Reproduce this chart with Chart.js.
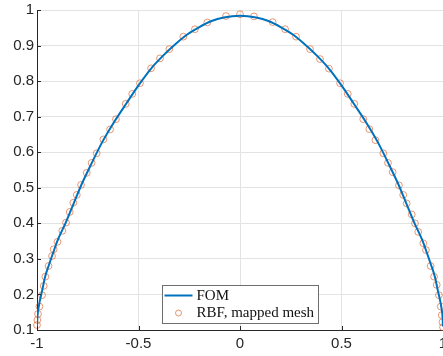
<!DOCTYPE html>
<html>
<head>
<meta charset="utf-8">
<script src="https://cdn.jsdelivr.net/npm/chart.js@4.4.0/dist/chart.umd.min.js"></script>
<style>
  html, body { margin: 0; padding: 0; background: #fff; }
  #wrap { width: 443px; height: 356px; }
</style>
</head>
<body>
<div id="wrap"><canvas id="myChart" width="443" height="356"></canvas></div>
<script>
// FOM curve (solid line)
const fomX = [-1.0, -0.998, -0.993, -0.985, -0.975, -0.96, -0.94, -0.92, -0.9, -0.86, -0.82, -0.78, -0.73, -0.68, -0.62, -0.56, -0.5, -0.44, -0.38, -0.32, -0.26, -0.2, -0.14, -0.08, 0.0,
  0.08, 0.14, 0.2, 0.26, 0.32, 0.38, 0.44, 0.5, 0.56, 0.62, 0.68, 0.73, 0.78, 0.82, 0.86, 0.9, 0.92, 0.94, 0.96, 0.975, 0.985, 0.993, 0.998, 1.0];
const fomY = [0.11, 0.135, 0.16, 0.185, 0.21, 0.25, 0.285, 0.318, 0.35, 0.40, 0.455, 0.51, 0.57, 0.627, 0.685, 0.737, 0.788, 0.834, 0.871, 0.903, 0.931, 0.952, 0.969, 0.979, 0.984,
  0.979, 0.969, 0.952, 0.931, 0.903, 0.871, 0.834, 0.788, 0.737, 0.685, 0.627, 0.57, 0.51, 0.455, 0.40, 0.35, 0.318, 0.285, 0.25, 0.21, 0.185, 0.16, 0.135, 0.11];

// RBF, mapped mesh (circle markers)
const rbfX = [-1.0, -0.998, -0.995, -0.988, -0.975, -0.967, -0.959, -0.943, -0.926, -0.918, -0.899, -0.875, -0.857, -0.839, -0.821, -0.804, -0.783, -0.755, -0.731, -0.706, -0.673, -0.640, -0.611, -0.563, -0.531, -0.493, -0.438, -0.394, -0.348, -0.279, -0.222, -0.161, -0.069,
  0.0,
  0.069, 0.161, 0.222, 0.276, 0.345, 0.394, 0.438, 0.493, 0.531, 0.563, 0.607, 0.637, 0.667, 0.706, 0.729, 0.752, 0.783, 0.804, 0.821, 0.846, 0.862, 0.878, 0.903, 0.916, 0.939, 0.956, 0.969, 0.980, 0.989, 0.994, 0.997, 1.0];
const rbfY = [0.114, 0.128, 0.145, 0.166, 0.198, 0.224, 0.250, 0.280, 0.308, 0.327, 0.348, 0.379, 0.402, 0.432, 0.458, 0.480, 0.508, 0.542, 0.570, 0.597, 0.636, 0.664, 0.693, 0.736, 0.764, 0.794, 0.836, 0.864, 0.890, 0.925, 0.946, 0.965, 0.983,
  0.988,
  0.982, 0.966, 0.946, 0.925, 0.890, 0.862, 0.835, 0.794, 0.764, 0.736, 0.693, 0.665, 0.634, 0.597, 0.570, 0.544, 0.507, 0.480, 0.456, 0.425, 0.400, 0.376, 0.344, 0.325, 0.280, 0.250, 0.227, 0.198, 0.166, 0.142, 0.122, 0.108];

const xTicks = [-1, -0.5, 0, 0.5, 1];
const yTicks = [0.1, 0.2, 0.3, 0.4, 0.5, 0.6, 0.7, 0.8, 0.9, 1];

const axisColor = '#262626';

// small inward tick marks like the original
const innerTicks = {
  id: 'innerTicks',
  afterDraw(chart) {
    const ctx = chart.ctx, a = chart.chartArea;
    const xs = chart.scales.x, ys = chart.scales.y;
    ctx.save();
    ctx.strokeStyle = axisColor;
    ctx.lineWidth = 1;
    ctx.beginPath();
    xTicks.forEach(v => {
      const px = Math.round(xs.getPixelForValue(v)) + 0.5;
      ctx.moveTo(px, a.bottom);
      ctx.lineTo(px, a.bottom - 4);
    });
    yTicks.forEach(v => {
      const py = Math.round(ys.getPixelForValue(v)) + 0.5;
      ctx.moveTo(a.left, py);
      ctx.lineTo(a.left + 4, py);
    });
    ctx.stroke();
    ctx.restore();
  }
};

// boxed legend at the bottom centre of the plot area
const boxLegend = {
  id: 'boxLegend',
  afterDraw(chart) {
    const ctx = chart.ctx, a = chart.chartArea;
    const sets = chart.data.datasets;
    ctx.save();
    ctx.font = '15px "Liberation Serif", serif';
    const textW = Math.max(...sets.map(d => ctx.measureText(d.label).width));
    const w = Math.round(34 + textW + 4);
    const h = 38;
    const left = Math.round((a.left + a.right) / 2 - w / 2) + 0.5;
    const top = Math.round(a.bottom - 7 - h) + 0.5;
    ctx.fillStyle = '#fff';
    ctx.fillRect(left, top, w, h);
    ctx.strokeStyle = '#6e6e6e';
    ctx.lineWidth = 1;
    ctx.strokeRect(left, top, w, h);

    const row1 = top + 10, row2 = top + 27.5;
    // FOM
    ctx.strokeStyle = sets[0].borderColor;
    ctx.lineWidth = 2;
    ctx.beginPath();
    ctx.moveTo(left + 2, row1);
    ctx.lineTo(left + 30, row1);
    ctx.stroke();
    // RBF
    ctx.strokeStyle = sets[1].borderColor;
    ctx.lineWidth = 1;
    ctx.beginPath();
    ctx.arc(left + 16, row2, 3, 0, Math.PI * 2);
    ctx.stroke();

    ctx.fillStyle = '#111';
    ctx.textBaseline = 'middle';
    ctx.fillText(sets[0].label, left + 34, row1 + 0.5);
    ctx.fillText(sets[1].label, left + 34, row2 + 0.5);
    ctx.restore();
  }
};

const context = document.getElementById('myChart');

const myChart = new Chart(context, {
  type: 'scatter',
  data: {
    datasets: [
      {
        label: 'FOM',
        data: fomX.map((x, i) => ({x: x, y: fomY[i]})),
        showLine: true,
        borderColor: '#0072BD',
        borderWidth: 2,
        pointRadius: 0,
        cubicInterpolationMode: 'monotone',
        order: 1
      },
      {
        label: 'RBF, mapped mesh',
        data: rbfX.map((x, i) => ({x: x, y: rbfY[i]})),
        showLine: false,
        borderColor: 'rgba(217,83,25,0.6)',
        backgroundColor: 'rgba(0,0,0,0)',
        pointRadius: 3.4,
        pointBorderWidth: 1,
        clip: false,
        order: 2
      }
    ]
  },
  options: {
    responsive: false,
    devicePixelRatio: 1,
    animation: false,
    layout: { autoPadding: false, padding: { top: 10, left: 0, right: 0, bottom: 0 } },
    plugins: {
      legend: { display: false },
      tooltip: { enabled: false }
    },
    scales: {
      x: {
        type: 'linear',
        min: -1,
        max: 1,
        afterBuildTicks: s => { s.ticks = xTicks.map(v => ({value: v})); },
        afterFit: s => { s.height = 26; s.paddingLeft = 0; s.paddingRight = 0; },
        ticks: {
          color: axisColor,
          font: { family: '"Liberation Sans", Arial, sans-serif', size: 15 },
          padding: 5,
          maxRotation: 0,
          autoSkip: false,
          callback: v => String(v)
        },
        grid: { color: '#e3e3e3', drawTicks: false },
        border: { color: axisColor, width: 1 }
      },
      y: {
        type: 'linear',
        min: 0.1,
        max: 1,
        afterBuildTicks: s => { s.ticks = yTicks.map(v => ({value: v})); },
        afterFit: s => { s.width = 37; s.paddingTop = 0; s.paddingBottom = 0; },
        ticks: {
          color: axisColor,
          font: { family: '"Liberation Sans", Arial, sans-serif', size: 15 },
          padding: 3,
          autoSkip: false,
          callback: v => String(v)
        },
        grid: { color: '#e3e3e3', drawTicks: false },
        border: { color: axisColor, width: 1 }
      }
    }
  },
  plugins: [innerTicks, boxLegend]
});
</script>
</body>
</html>
